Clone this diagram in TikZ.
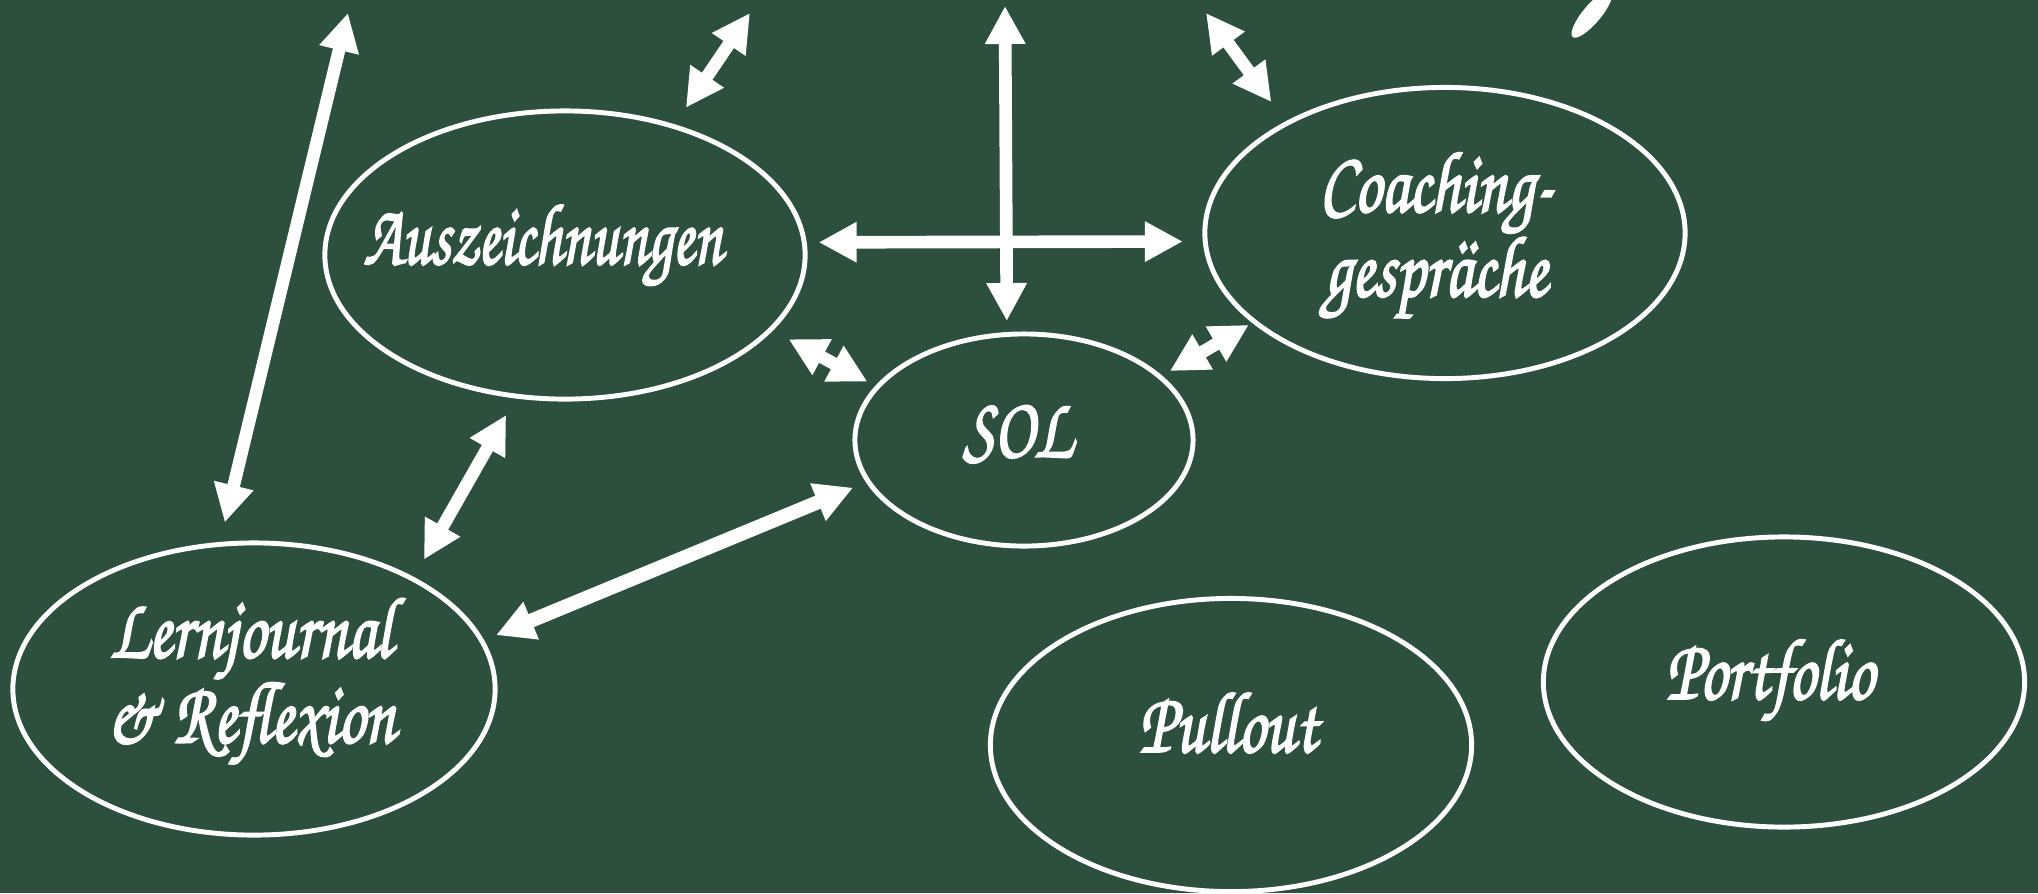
\documentclass[tikz,border=0pt]{standalone}
\usepackage{fontspec}
\usepackage{graphicx}
\usepackage{tikz}
\usetikzlibrary{arrows.meta,shapes.geometric}
\newfontfamily\kreidefont{texgyrechorus-mediumitalic.otf}[FakeBold=2.5]
\definecolor{tafel}{HTML}{2D4F3D}
\newcommand\kreide[2][1]{\scalebox{#1}[1.3]{\begin{tabular}{@{}c@{}}#2\end{tabular}}}
\tikzset{
  blase/.style={ellipse,draw=white,line width=1.4pt,inner sep=0pt},
  schrift/.style={text=white,inner sep=0pt,font=\kreidefont\fontsize{19}{18.5}\selectfont},
  pfeil/.style={{Triangle[length=10.8pt,width=10.8pt]}-{Triangle[length=10.8pt,width=10.8pt]},
    line width=3.6pt,white}
}

\begin{document}
\begin{tikzpicture}[x=0.01cm,y=-0.01cm]
  \fill[tafel] (0,0) rectangle (2038,893);
  \useasboundingbox (0,0) rectangle (2038,893);
  % Blasen
  \node[blase,minimum width=4.8cm,minimum height=2.88cm] (aus) at (565,255) {};
  \node[blase,minimum width=4.8cm,minimum height=2.91cm] (coach) at (1445,233) {};
  \node[blase,minimum width=3.38cm,minimum height=2.12cm] (sol) at (1024,440) {};
  \node[blase,minimum width=4.82cm,minimum height=2.92cm] (lern) at (254,689) {};
  \node[blase,minimum width=4.81cm,minimum height=2.93cm] (pull) at (1231,745) {};
  \node[blase,minimum width=4.81cm,minimum height=2.9cm] (port) at (1784,682) {};
  % Beschriftungen
  \node[schrift] (aus-t) at (543,247) {\kreide[0.93]{Auszeichnungen}};
  \node[schrift] (coach-t) at (1436,237) {\kreide{Coaching-\\gespräche}};
  \node[schrift] (sol-t) at (1018,440) {\kreide{SOL}};
  \node[schrift] (lern-t) at (251,683) {\kreide{Lernjournal\\\& Reflexion}};
  \node[schrift] (pull-t) at (1228,735) {\kreide{Pullout}};
  \node[schrift] (port-t) at (1770,682) {\kreide{Portfolio}};
  % freie Enden oben
  \coordinate (oben1) at (348,13);
  \coordinate (oben2) at (750,13);
  \coordinate (oben3) at (1005,6);
  \coordinate (oben4) at (1206,13);
  % Pfeile
  \draw[pfeil,shorten >=0.2cm] (oben1) -- (lern.103);
  \draw[pfeil,shorten >=0.2cm] (oben2) -- (aus.50);
  \draw[pfeil,shorten >=0.11cm] (oben3) -- (sol.99);
  \draw[pfeil,shorten >=0.24cm] (oben4) -- (coach.145);
  \draw[pfeil,shorten <=0.12cm,shorten >=0.2cm] (aus.3) -- (coach.182);
  \draw[pfeil,shorten <=0.18cm,shorten >=0.09cm] (aus.-20) -- (sol.160);
  \draw[pfeil,shorten <=0.09cm,shorten >=0.04cm] (sol.25) -- (coach.205);
  \draw[pfeil,shorten <=0.19cm,shorten >=0.2cm] (aus.251) -- (lern.35);
  \draw[pfeil,line width=4pt,shorten <=0.13cm,shorten >=0.14cm] (lern.12) -- (sol.195);
  % Kreidestrich oben rechts
  \begin{scope}
    \clip (0,0) rectangle (2038,893);
    \fill[white,rotate around={50:(1592,14)}] (1592,14) ellipse [x radius=0.3cm,y radius=0.09cm];
  \end{scope}
\end{tikzpicture}
\end{document}
